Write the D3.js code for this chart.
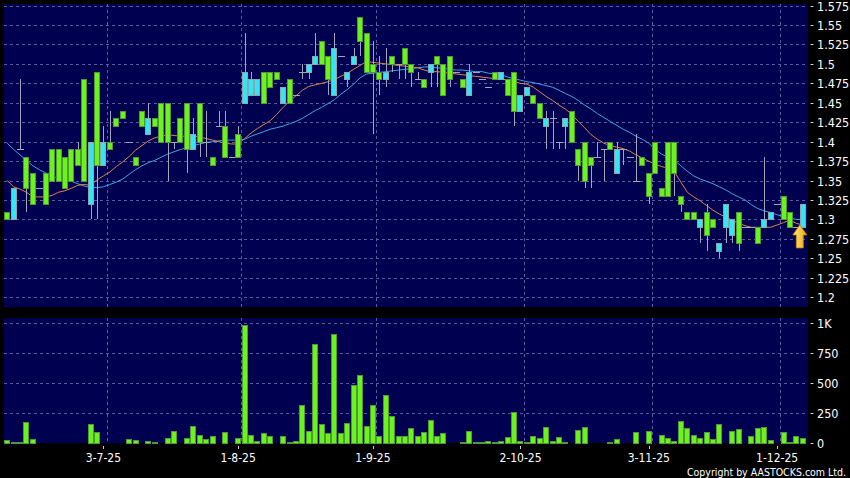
<!DOCTYPE html>
<html>
<head>
<meta charset="utf-8">
<script src="https://cdn.jsdelivr.net/npm/d3@7"></script>
<style>
  body { margin:0; background:#000; }
  svg text { font-family: "DejaVu Sans Condensed", "DejaVu Sans", sans-serif; font-stretch: condensed; fill:#fff; }
</style>
</head>
<body>
<div id="chart"></div>
<script>
// daily candles, oldest first
var opens = [1.31,1.30,1.39,1.38,1.36,1.34,1.36,1.39,1.39,1.38, 1.39,1.39,1.48,1.32,1.49,1.37,1.40,1.43,1.44,1.40,
  1.38,1.44,1.41,1.43,1.45,1.45,1.40,1.43,1.45,1.39, 1.45,1.40,1.38,1.42,1.42,1.38,1.41,1.45,1.46,1.46,
  1.49,1.49,1.49,1.45,1.48,1.46,1.49,1.49,1.50,1.53, 1.51,1.46,1.51,1.48,1.50,1.56,1.54,1.50,1.49,1.48,
  1.51,1.50,1.52,1.50,1.48,1.48,1.49,1.51,1.50,1.51, 1.49,1.48,1.46,1.49,1.48,1.47,1.49,1.48,1.48,1.49,
  1.44,1.46,1.46,1.45,1.42,1.43,1.40,1.42,1.44,1.39, 1.40,1.38,1.38,1.39,1.40,1.36,1.39,1.38,1.35,1.38,
  1.36,1.40,1.34,1.40,1.40,1.33,1.31,1.31,1.29,1.31, 1.30,1.26,1.29,1.28,1.31,1.29,1.29,1.29,1.29,1.30,
  1.32,1.33,1.31,1.29,1.29];
var highs = [1.31,1.34,1.48,1.38,1.36,1.34,1.36,1.39,1.39,1.38, 1.39,1.40,1.48,1.40,1.49,1.42,1.44,1.43,1.44,1.40,
  1.38,1.44,1.45,1.43,1.45,1.45,1.40,1.43,1.45,1.43, 1.45,1.44,1.38,1.44,1.44,1.38,1.42,1.54,1.49,1.48,
  1.49,1.49,1.49,1.47,1.48,1.46,1.50,1.50,1.54,1.53, 1.51,1.54,1.51,1.49,1.52,1.56,1.54,1.53,1.51,1.52,
  1.51,1.50,1.52,1.50,1.49,1.48,1.50,1.51,1.50,1.51, 1.49,1.48,1.50,1.49,1.48,1.47,1.49,1.49,1.48,1.49,
  1.46,1.47,1.46,1.45,1.44,1.44,1.40,1.43,1.44,1.39, 1.40,1.38,1.40,1.39,1.40,1.40,1.39,1.38,1.41,1.38,
  1.36,1.40,1.34,1.40,1.40,1.33,1.31,1.31,1.30,1.32, 1.30,1.27,1.32,1.30,1.31,1.29,1.29,1.29,1.38,1.31,
  1.32,1.33,1.31,1.29,1.32];
var lows = [1.30,1.30,1.39,1.31,1.32,1.34,1.32,1.35,1.35,1.34, 1.35,1.37,1.35,1.30,1.30,1.37,1.39,1.42,1.43,1.40,
  1.37,1.42,1.41,1.42,1.40,1.35,1.39,1.40,1.36,1.39, 1.38,1.38,1.37,1.42,1.38,1.38,1.38,1.45,1.46,1.46,
  1.45,1.47,1.48,1.45,1.45,1.46,1.48,1.48,1.50,1.50, 1.46,1.46,1.51,1.47,1.50,1.51,1.49,1.41,1.46,1.47,
  1.49,1.48,1.48,1.47,1.48,1.47,1.47,1.47,1.46,1.47, 1.49,1.47,1.46,1.49,1.48,1.47,1.48,1.48,1.46,1.42,
  1.44,1.46,1.45,1.43,1.39,1.39,1.39,1.39,1.40,1.35, 1.34,1.34,1.38,1.35,1.39,1.36,1.37,1.38,1.35,1.37,
  1.32,1.36,1.33,1.33,1.33,1.31,1.30,1.30,1.27,1.26, 1.29,1.25,1.27,1.27,1.26,1.29,1.29,1.27,1.29,1.30,
  1.32,1.30,1.29,1.29,1.29];
var closes = [1.30,1.34,1.39,1.34,1.32,1.34,1.32,1.35,1.35,1.34, 1.35,1.37,1.35,1.40,1.37,1.40,1.39,1.42,1.43,1.40,
  1.37,1.42,1.43,1.42,1.40,1.40,1.40,1.40,1.39,1.41, 1.40,1.40,1.37,1.42,1.38,1.38,1.38,1.49,1.48,1.48,
  1.45,1.47,1.48,1.47,1.45,1.46,1.49,1.50,1.51,1.50, 1.48,1.52,1.51,1.49,1.51,1.53,1.49,1.49,1.48,1.49,
  1.50,1.50,1.50,1.49,1.48,1.47,1.50,1.50,1.46,1.48, 1.49,1.47,1.49,1.49,1.48,1.47,1.48,1.49,1.46,1.44,
  1.46,1.47,1.45,1.43,1.43,1.43,1.40,1.43,1.40,1.37, 1.35,1.37,1.38,1.39,1.39,1.39,1.39,1.38,1.35,1.37,
  1.33,1.36,1.33,1.33,1.36,1.32,1.30,1.30,1.30,1.28, 1.29,1.27,1.32,1.30,1.27,1.29,1.29,1.27,1.30,1.31,
  1.32,1.30,1.29,1.29,1.32];
var volumes = [22,8,8,172,36,2,2,2,2,2, 2,2,2,158,95,2,2,2,2,36,
  22,2,15,6,2,42,100,2,42,140, 70,36,56,2,95,0,40,983,70,19,
  80,61,2,61,8,19,314,97,831,158, 80,914,80,164,481,567,142,314,61,397,
  222,61,61,125,61,95,194,55,83,0, 0,8,97,8,8,14,5,14,50,261,
  14,8,61,42,136,14,50,8,2,108, 136,2,3,2,5,36,2,0,92,0,
  103,0,70,42,17,181,128,70,42,92, 36,158,2,97,119,3,58,125,136,28,
  2,89,5,58,39];
// moving averages
var maShort = [1.350,1.342,1.339,1.335,1.329,1.329,1.329,1.331,1.335,1.337, 1.340,1.344,1.345,1.344,1.351,1.356,1.361,1.368,1.374,1.381,
  1.389,1.395,1.401,1.405,1.407,1.409,1.408,1.407,1.407,1.407, 1.406,1.404,1.402,1.400,1.398,1.397,1.397,1.404,1.411,1.417,
  1.422,1.427,1.435,1.444,1.452,1.459,1.466,1.471,1.473,1.475, 1.477,1.480,1.484,1.488,1.493,1.498,1.503,1.502,1.501,1.500,
  1.499,1.498,1.497,1.496,1.495,1.492,1.490,1.490,1.489,1.488, 1.487,1.486,1.485,1.484,1.483,1.482,1.481,1.481,1.479,1.477,
  1.475,1.474,1.470,1.464,1.458,1.453,1.447,1.442,1.435,1.426, 1.418,1.409,1.403,1.398,1.395,1.393,1.391,1.388,1.383,1.379,
  1.375,1.371,1.368,1.366,1.361,1.348,1.335,1.329,1.324,1.318, 1.312,1.307,1.303,1.299,1.295,1.292,1.290,1.290,1.290,1.290,
  1.293,1.296,1.299,1.295,1.293];
var maLong = [1.398,1.390,1.383,1.376,1.369,1.364,1.360,1.356,1.353,1.351, 1.349,1.346,1.343,1.341,1.341,1.342,1.345,1.348,1.352,1.358,
  1.364,1.369,1.373,1.376,1.380,1.384,1.387,1.390,1.392,1.395, 1.397,1.399,1.400,1.401,1.402,1.402,1.402,1.403,1.407,1.410,
  1.413,1.416,1.418,1.420,1.423,1.426,1.430,1.435,1.440,1.444, 1.449,1.454,1.461,1.467,1.474,1.482,1.487,1.488,1.489,1.490,
  1.491,1.492,1.493,1.494,1.495,1.496,1.496,1.495,1.494,1.493, 1.492,1.492,1.491,1.490,1.490,1.488,1.487,1.486,1.483,1.481,
  1.479,1.477,1.476,1.474,1.472,1.470,1.466,1.462,1.458,1.453, 1.447,1.442,1.436,1.431,1.426,1.421,1.416,1.412,1.407,1.403,
  1.398,1.390,1.384,1.380,1.376,1.369,1.362,1.356,1.352,1.349, 1.346,1.342,1.338,1.333,1.329,1.325,1.319,1.314,1.311,1.309,
  1.306,1.304,1.302,1.300,1.300];

var priceTicks = [1.2,1.225,1.25,1.275,1.3,1.325,1.35,1.375,1.4,1.425,1.45,1.475,1.5,1.525,1.55,1.575];
var volTicks = [0,250,500,750,1000];
var volLabels = ["0","250","500","750","1K"];
var dateTickIdx = [15,36,57,80,100,120];
var dateLabels = ["3-7-25","1-8-25","1-9-25","2-10-25","3-11-25","1-12-25"];

var W = 850, H = 478;
var left = 4, right = 806, plotRight = 808;
var priceTop = 4, priceBottom = 307, volTop = 318, volBottom = 443;

var idx = d3.range(closes.length);
var x = d3.scaleBand().domain(idx).range([left, right]);
var bw = x.bandwidth();
var cx = function(i){ return x(i) + bw/2; };
var y = d3.scaleLinear().domain([1.2, 1.575]).range([297.3, 5.5]);
var yv = d3.scaleLinear().domain([0, 1000]).range([volBottom, 323.3]);

var svg = d3.select("#chart").append("svg").attr("width", W).attr("height", H);
svg.append("rect").attr("width", W).attr("height", H).attr("fill", "#000");

// panels
svg.append("rect").attr("x", left).attr("y", priceTop).attr("width", plotRight-left).attr("height", priceBottom-priceTop).attr("fill", "#000050");
svg.append("rect").attr("x", left).attr("y", volTop).attr("width", plotRight-left).attr("height", volBottom-volTop).attr("fill", "#000050");

var gridColor = "#5c5c9c";
var grid = svg.append("g").attr("stroke", gridColor).attr("stroke-dasharray", "3,3").attr("shape-rendering", "crispEdges");
grid.selectAll(".hp").data(priceTicks).enter().append("line")
  .attr("x1", left).attr("x2", plotRight)
  .attr("y1", function(d){ return Math.round(y(d)) + 0.5; }).attr("y2", function(d){ return Math.round(y(d)) + 0.5; });
grid.selectAll(".hv").data(volTicks.slice(1)).enter().append("line")
  .attr("x1", left).attr("x2", plotRight)
  .attr("y1", function(d){ return Math.round(yv(d)) + 0.5; }).attr("y2", function(d){ return Math.round(yv(d)) + 0.5; });
dateTickIdx.forEach(function(i){
  var gx = Math.round(x(i) + bw) + 0.5;
  grid.append("line").attr("x1", gx).attr("x2", gx).attr("y1", priceTop).attr("y2", priceBottom);
  grid.append("line").attr("x1", gx).attr("x2", gx).attr("y1", volTop).attr("y2", volBottom);
});

// moving averages
var line = function(arr){ return d3.line().x(function(d, i){ return cx(i); }).y(function(d){ return y(d); })(arr); };
svg.append("path").attr("d", line(maLong)).attr("fill", "none").attr("stroke", "#3fa6e6").attr("stroke-width", 1);
svg.append("path").attr("d", line(maShort)).attr("fill", "none").attr("stroke", "#e0844c").attr("stroke-width", 1);

// candles
var wickColor = "#a4a4bc";
var bodyW = Math.round(bw * 0.86);
var cg = svg.append("g").attr("shape-rendering", "crispEdges");
idx.forEach(function(i){
  var c = Math.round(cx(i)) + 0.5;
  cg.append("line").attr("x1", c).attr("x2", c).attr("y1", y(highs[i])).attr("y2", y(lows[i])).attr("stroke", wickColor);
  if (opens[i] === closes[i]) {
    var yy = Math.round(y(opens[i])) + 0.5;
    cg.append("line").attr("x1", c - 3.5).attr("x2", c + 3.5).attr("y1", yy).attr("y2", yy).attr("stroke", wickColor);
  } else {
    var up = closes[i] > opens[i];
    var top = Math.round(y(Math.max(opens[i], closes[i])));
    var bot = Math.round(y(Math.min(opens[i], closes[i])));
    cg.append("rect").attr("x", Math.round(cx(i) - bodyW/2) + 0.5).attr("y", top + 0.5)
      .attr("width", bodyW - 1).attr("height", bot - top)
      .attr("fill", up ? "#33e6f2" : "#6cf21c")
      .attr("stroke", up ? "#8aa6b0" : "#4e9a38");
  }
});

// volume bars
svg.append("g").attr("shape-rendering", "crispEdges").selectAll("rect").data(volumes).enter().append("rect")
  .attr("x", function(d, i){ return Math.round(cx(i) - bodyW/2) + 0.5; })
  .attr("y", function(d){ return Math.round(yv(d)) + 0.5; })
  .attr("width", bodyW - 1)
  .attr("height", function(d){ return Math.max(0, Math.round(yv(0)) - Math.round(yv(d))); })
  .attr("fill", "#6cf21c").attr("stroke", "#4e9a38");

// arrow marking the last short average
var ax = cx(closes.length - 1) - 3, ay = y(maShort[maShort.length - 1]);
var grad = svg.append("defs").append("linearGradient").attr("id", "ag").attr("x1", 0).attr("x2", 1).attr("y1", 0).attr("y2", 0);
grad.append("stop").attr("offset", "0").attr("stop-color", "#ffe680");
grad.append("stop").attr("offset", "1").attr("stop-color", "#f0a810");
svg.append("path")
  .attr("d", "M" + ax + "," + ay + " l7,10 h-3.5 v13 h-7 v-13 h-3.5 z")
  .attr("fill", "url(#ag)").attr("stroke", "#c88400").attr("stroke-width", 0.8);

// right axis
var axisX = 810.5;
var ra = svg.append("g");
priceTicks.forEach(function(p){
  var yy = Math.round(y(p)) + 0.5;
  ra.append("line").attr("x1", axisX).attr("x2", axisX + 3).attr("y1", yy).attr("y2", yy).attr("stroke", "#ccc");
  ra.append("text").attr("x", 817).attr("y", yy).attr("dy", "0.36em").attr("font-size", 12.5).text(d3.format("")(p));
});
volTicks.forEach(function(v, k){
  var yy = Math.round(yv(v)) + 0.5;
  ra.append("line").attr("x1", axisX).attr("x2", axisX + 3).attr("y1", yy).attr("y2", yy).attr("stroke", "#ccc");
  ra.append("text").attr("x", 817).attr("y", yy).attr("dy", "0.36em").attr("font-size", 12.5).text(volLabels[k]);
});

// date axis
dateTickIdx.forEach(function(i, k){
  var c = Math.round(cx(i)) + 0.5;
  svg.append("line").attr("x1", c).attr("x2", c).attr("y1", 446).attr("y2", 449).attr("stroke", "#ccc");
  svg.append("text").attr("x", cx(i)).attr("y", 461.5).attr("text-anchor", "middle").attr("font-size", 12).text(dateLabels[k]);
});

svg.append("text").attr("x", 846).attr("y", 475.5).attr("text-anchor", "end").attr("font-size", 10.5)
  .attr("textLength", 159).attr("lengthAdjust", "spacingAndGlyphs").text("Copyright by AASTOCKS.com Ltd.");
</script>
</body>
</html>
